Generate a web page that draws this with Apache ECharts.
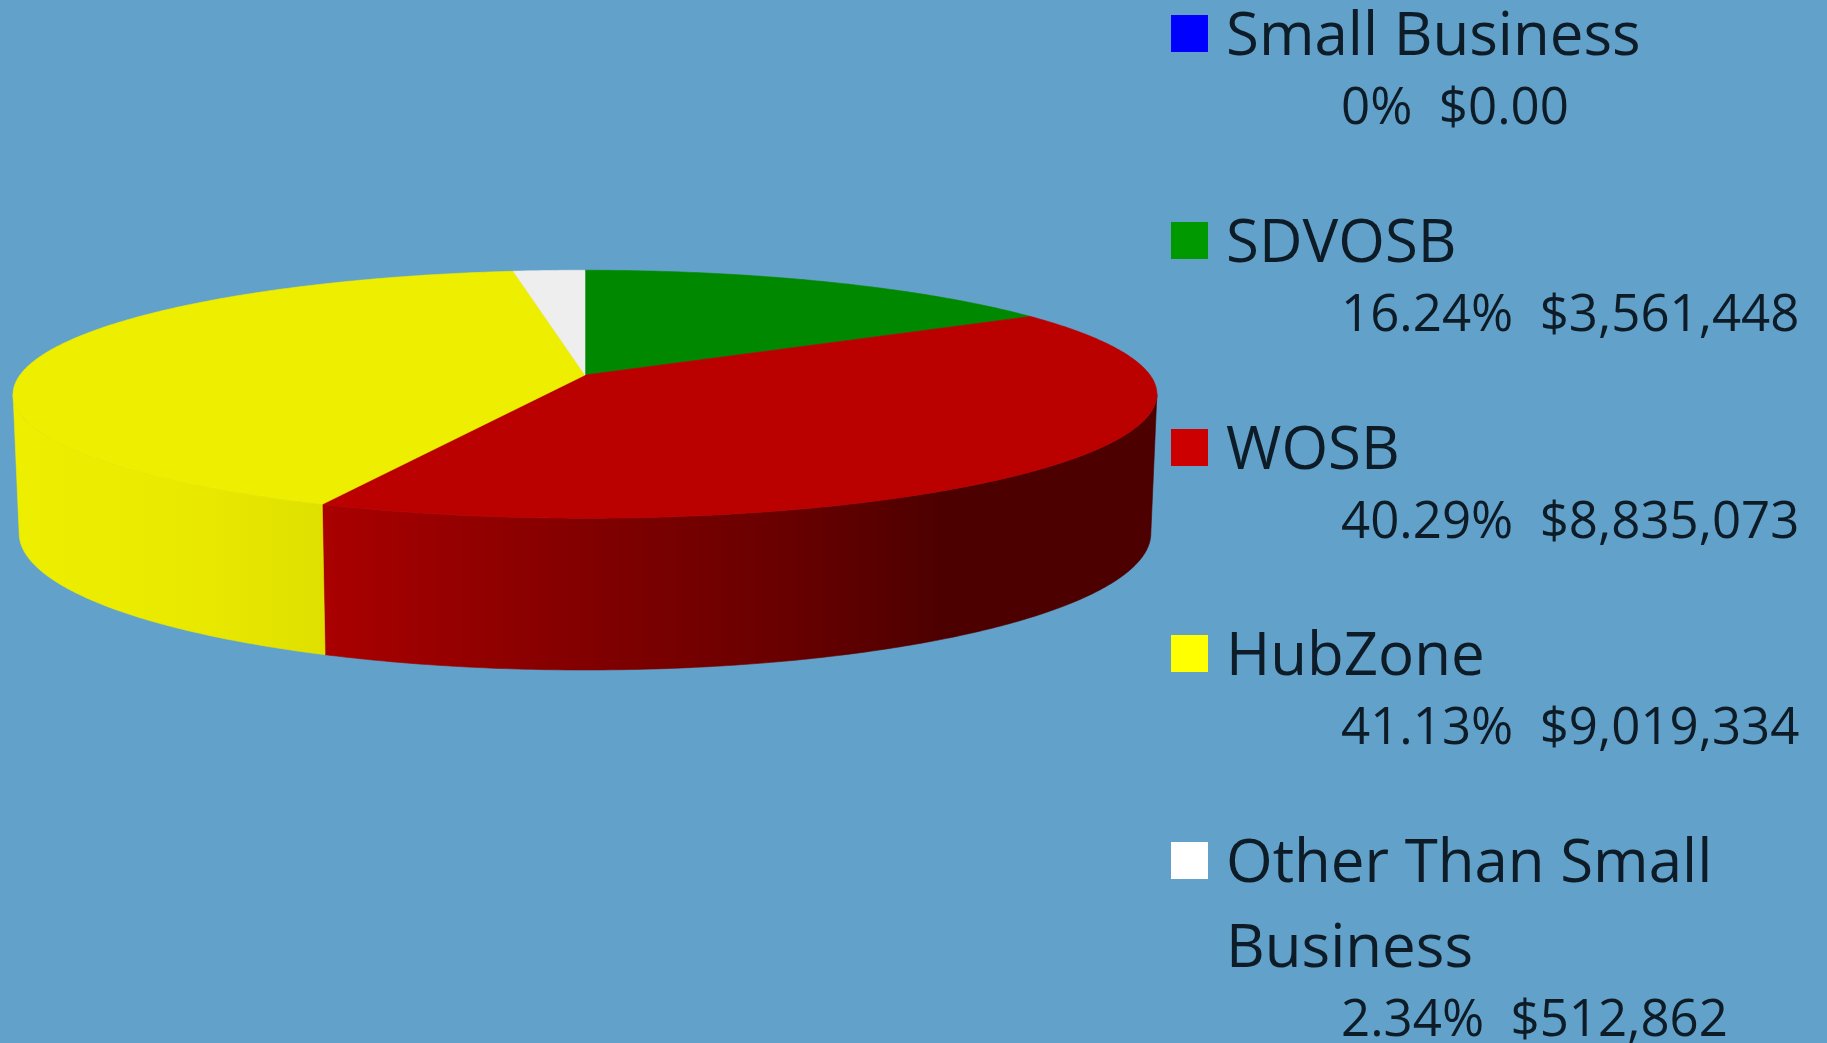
<!DOCTYPE html>
<html>
<head>
<meta charset="utf-8">
<title>Small business spend</title>
<script src="https://cdn.jsdelivr.net/npm/echarts@6/dist/echarts.min.js"></script>
<style>
    html, body { margin: 0; padding: 0; background: #62a1c9; }
    #chart { width: 1827px; height: 1043px; }
</style>
</head>
<body>
<div id="chart"></div>
<script>
const categories = ['Small Business', 'SDVOSB', 'WOSB', 'HubZone', 'Other Than Small\nBusiness'];
const amounts = [0, 3561448, 8835073, 9019334, 512862];
const percentLabels = ['0%', '16.24%', '40.29%', '41.13%', '2.34%'];
const amountLabels = ['$0.00', '$3,561,448', '$8,835,073', '$9,019,334', '$512,862'];

// Colours
const swatchColors = ['#0000ff', '#009a00', '#cc0000', '#ffff00', '#ffffff'];
const topColors = ['#0000dd', '#008800', '#bb0000', '#eeee00', '#eeeeee'];
const wallStops = {
    2: [[0, '#aa0000'], [0.33, '#800000'], [0.56, '#680000'], [0.75, '#4c0000'], [1, '#4c0000']],
    3: [[0, '#eeee00'], [0.5, '#eaea00'], [1, '#e0e000']]
};

// Pie projection: a circle seen in perspective from above
const centerX = 585;
const perspective = 0.155;
const topRim = { a: 565, b: 121, c: 375 };
const bottomRim = { a: 559, b: 133.5, c: 512 };

const total = amounts.reduce((sum, v) => sum + v, 0);
const starts = [];
amounts.reduce((sum, v, i) => { starts[i] = sum; return sum + v; }, 0);

function project(rim, angle) {
    const u = Math.sin(angle);
    const v = Math.cos(angle);
    const w = 1 + perspective * v;
    return [centerX + rim.a * u / w, rim.c - rim.b * v / w];
}

function rimPoints(rim, from, to) {
    const pts = [];
    const steps = Math.max(2, Math.ceil((to - from) / 0.01));
    for (let i = 0; i <= steps; i++) {
        pts.push(project(rim, from + (to - from) * i / steps));
    }
    return pts;
}

function renderSlice(params, api) {
    const i = params.dataIndex;
    const value = api.value(0);
    if (!value) return null;

    const from = starts[i] / total * Math.PI * 2;
    const to = (starts[i] + value) / total * Math.PI * 2;
    const children = [];

    // Wall only shows on the front between the two silhouette points
    const hidden = Math.acos(-perspective);
    const wallFrom = Math.max(from, hidden);
    const wallTo = Math.min(to, Math.PI * 2 - hidden);
    if (wallTo > wallFrom && wallStops[i]) {
        const upper = rimPoints(topRim, wallFrom, wallTo);
        const lower = rimPoints(bottomRim, wallFrom, wallTo).reverse();
        const xs = upper.concat(lower).map(p => p[0]);
        const left = Math.min.apply(null, xs);
        const right = Math.max.apply(null, xs);
        // stops run from the left edge of the wall to the right
        const fill = {
            type: 'linear', global: true,
            x: left, y: 0, x2: right, y2: 0,
            colorStops: wallStops[i].map(s => ({ offset: s[0], color: s[1] }))
        };
        children.push({
            type: 'polygon',
            shape: { points: upper.concat(lower) },
            style: { fill: fill, stroke: fill, lineWidth: 0.6 }
        });
    }

    // Top face
    const apex = [centerX, topRim.c];
    children.push({
        type: 'polygon',
        shape: { points: [apex].concat(rimPoints(topRim, from, to)) },
        style: { fill: topColors[i], stroke: topColors[i], lineWidth: 0.6 }
    });

    return { type: 'group', children: children };
}

// Legend is laid out by hand because the swatch sits on the first text line only
const legendElements = [];
const fontName = '"Open Sans"';
const nameSize = 60;
const subSize = 51;
const textColor = '#0e1c28';
const rowBaselines = [53, 260, 467, 673, 880];
categories.forEach((name, i) => {
    const base = rowBaselines[i];
    legendElements.push({
        type: 'rect',
        shape: { x: 1171, y: base - 38, width: 37, height: 37 },
        style: { fill: swatchColors[i] }
    });
    const lines = name.split('\n');
    lines.forEach((line, n) => {
        legendElements.push({
            type: 'text', x: 1226, y: base + n * 85 - nameSize * 0.3 + 3,
            style: { text: line, font: nameSize + 'px ' + fontName, fill: textColor, verticalAlign: 'middle' }
        });
    });
    const subBase = base + (lines.length - 1) * 85 + 72;
    legendElements.push({
        type: 'text', x: 1341, y: subBase - subSize * 0.3,
        style: { text: percentLabels[i] + '  ' + amountLabels[i], font: subSize + 'px ' + fontName, fill: textColor, verticalAlign: 'middle' }
    });
});

const chart = echarts.init(document.getElementById('chart'));
chart.setOption({
    animation: false,
    backgroundColor: '#62a1c9',
    graphic: { elements: legendElements },
    series: [{
        type: 'custom',
        coordinateSystem: 'none',
        silent: true,
        renderItem: renderSlice,
        data: amounts.map(v => [v])
    }]
});
</script>
</body>
</html>
